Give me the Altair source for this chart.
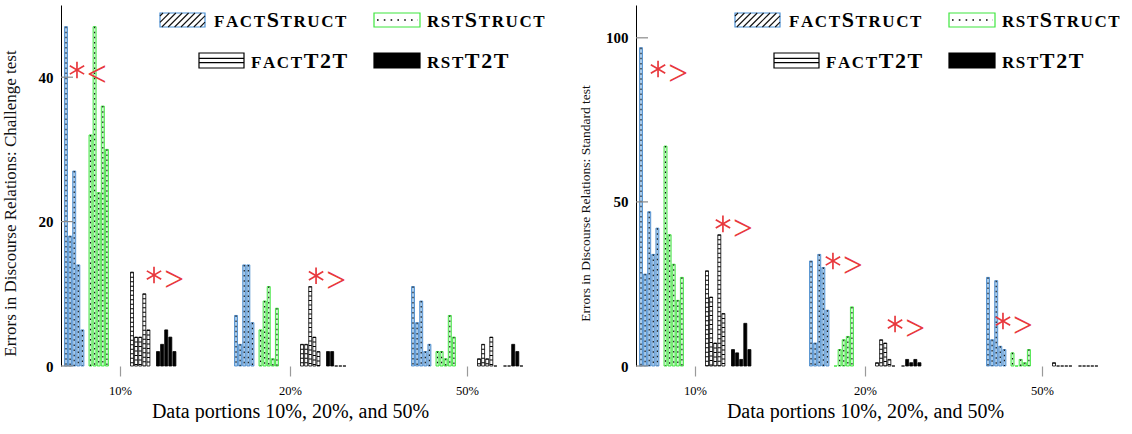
import math
import altair as alt
import pandas as pd

portions = ["10%", "20%", "50%"]
systems = ["factStruct", "rstStruct", "factT2T", "rstT2T"]

# Challenge test: errors for five discourse relations, one list per data portion
challenge_factStruct = [[47, 18, 27, 14, 5], [7, 3, 14, 14, 6], [11, 6, 9, 2, 3]]
challenge_rstStruct = [[32, 47, 24, 36, 30], [5, 9, 11, 1, 8], [2, 2, 1, 7, 4]]
challenge_factT2T = [[13, 4, 4, 10, 5], [3, 3, 11, 4, 2], [1, 3, 1, 4, 0]]
challenge_rstT2T = [[2, 3, 5, 4, 2], [2, 2, 0, 0, 0], [0, 0, 3, 2, 0]]

# Standard test
standard_factStruct = [[97, 28, 47, 34, 42], [32, 7, 34, 30, 17], [27, 8, 26, 6, 5]]
standard_rstStruct = [[67, 40, 31, 20, 27], [0, 5, 8, 9, 18], [4, 0, 2, 1, 5]]
standard_factT2T = [[29, 21, 7, 40, 16], [1, 8, 7, 2, 0], [1, 0, 0, 0, 0]]
standard_rstT2T = [[5, 4, 2, 13, 5], [0, 2, 1, 2, 1], [0, 0, 0, 0, 0]]

# significance marks: x in data-portion units, y in errors
challenge_sig_x = [-0.248, 0.196, 1.130]
challenge_sig_y = [41.0, 12.6, 12.5]
challenge_sig_sym = ["<", ">", ">"]
standard_sig_x = [-0.213, 0.161, 0.795, 1.153, 1.775]
standard_sig_y = [90.5, 43.3, 32.0, 12.8, 13.7]
standard_sig_sym = [">", ">", ">", ">", ">"]

challenge_ticks = [0, 20, 40]
standard_ticks = [0, 50, 100]
challenge_ymax = 50
standard_ymax = 110

# ---- layout and style ----
FONT = "Liberation Serif"
RED = "#e8383d"
PLOT_W, PLOT_H = 458, 361
GROUP_PX = 173.5
GROUP_POS = [0.0, 0.98, 2.0]
FIRST_GROUP_PX = 59
SERIES_START_PX = [-55.5, -31.0, 10.5, 36.5]
BAR_PITCH_PX = 4.1
BAR_W_PX = 3.0
FILL = ["#a6c9ea", "#cbf8cb", "#ffffff", "#000000"]
STROKE = ["#3b82c8", "#22e022", "#000000", "#000000"]
X_DOMAIN = [-FIRST_GROUP_PX / GROUP_PX, (PLOT_W - FIRST_GROUP_PX) / GROUP_PX]
STAR_ARM_PX = 8.3

mid1 = (GROUP_POS[0] + GROUP_POS[1]) / 2
mid2 = (GROUP_POS[1] + GROUP_POS[2]) / 2
LABEL_EXPR = (f"datum.value < {mid1} ? '{portions[0]}' : "
              f"datum.value < {mid2} ? '{portions[1]}' : '{portions[2]}'")

# Liberation Serif Bold advance widths (em) for the legend letters
GLYPH_W = {"F": 0.611, "A": 0.722, "C": 0.722, "T": 0.667, "S": 0.556,
           "R": 0.722, "U": 0.722, "2": 0.500}
SMALL, BIG, TRACK = 17, 22, 1.6

LEGEND = [
    # label pieces, swatch box (x0, y0, x1, y1), text start x, baseline y
    ([("FACT", SMALL), ("S", BIG), ("TRUCT", SMALL)], (99, 8, 144, 22), 153, 22),
    ([("RST", SMALL), ("S", BIG), ("TRUCT", SMALL)], (313, 8, 359, 22), 366, 22),
    ([("FACT", SMALL), ("T2T", BIG)], (138, 48, 183, 63), 190, 63),
    ([("RST", SMALL), ("T2T", BIG)], (313, 48, 359, 63), 366, 63),
]


def bar_table(values_by_system):
    rows = []
    for si, per_portion in enumerate(values_by_system):
        for gi, vals in enumerate(per_portion):
            for b, v in enumerate(vals):
                x0 = GROUP_POS[gi] + (SERIES_START_PX[si] + b * BAR_PITCH_PX) / GROUP_PX
                x1 = x0 + BAR_W_PX / GROUP_PX
                rows.append(dict(system=systems[si], portion=portions[gi], errors=v,
                                 x0=x0, x1=x1, xc=(x0 + x1) / 2, zero=0))
    return pd.DataFrame(rows)


def star_arms(sig_x, sig_y, ymax):
    # three strokes through each mark's centre give a six-armed asterisk
    y_px = PLOT_H / ymax
    rows = []
    for x, y in zip(sig_x, sig_y):
        for ang in (90, 30, 150):
            dx = STAR_ARM_PX * math.cos(math.radians(ang)) / GROUP_PX
            dy = STAR_ARM_PX * math.sin(math.radians(ang)) / y_px
            rows.append(dict(x0=x - dx, x1=x + dx, errors=y - dy, e2=y + dy))
    return pd.DataFrame(rows)


def legend_layers():
    letters, boxes, hatch = [], [], []
    for pieces, box, tx, ty in LEGEND:
        cur = tx
        for text, size in pieces:
            for ch in text:
                letters.append(dict(ch=ch, px=cur, py=ty, size=size))
                cur += GLYPH_W[ch] * size + TRACK
    for si, (_, box, _, _) in enumerate(LEGEND):
        x0, y0, x1, y1 = box
        boxes.append(dict(x0=x0, y0=y0, x1=x1, y1=y1,
                          fill=FILL[si] if si == 3 else "#ffffff",
                          stroke=["#4a8fd4", "#3ee63e", "#000000", "#000000"][si]))
    # diagonal hatching of the factStruct swatch
    x0, y0, x1, y1 = LEGEND[0][1]
    h = y1 - y0
    c = x0 - h + 3
    while c < x1:
        sx, sy = c, y1
        ex, ey = c + h, y0
        if sx < x0:
            sy = y1 - (x0 - sx)
            sx = x0
        if ex > x1:
            ey = y1 - (x1 - c)
            ex = x1
        hatch.append(dict(x0=sx, y0=sy, x1=ex, y1=ey))
        c += 6.4
    # stripes of the factT2T swatch
    x0, y0, x1, y1 = LEGEND[2][1]
    stripes = [dict(x0=x0, x1=x1, y0=y0 + (y1 - y0) * f, y1=y0 + (y1 - y0) * f)
               for f in (0.36, 0.64)]
    # dotted line of the rstStruct swatch
    x0, y0, x1, y1 = LEGEND[1][1]
    dots = [dict(x0=x0 + 3, x1=x1 - 2, y0=(y0 + y1) / 2, y1=(y0 + y1) / 2)]

    def px(name):
        return alt.X(f"{name}:Q", scale=None)

    def py(name):
        return alt.Y(f"{name}:Q", scale=None)

    rects = alt.Chart(pd.DataFrame(boxes)).mark_rect(strokeWidth=1.2).encode(
        x=px("x0"), x2="x1:Q", y=py("y0"), y2="y1:Q",
        fill=alt.Fill("fill:N", scale=None), stroke=alt.Stroke("stroke:N", scale=None))
    hatch_l = alt.Chart(pd.DataFrame(hatch)).mark_rule(strokeWidth=1.1, color="#111").encode(
        x=px("x0"), x2="x1:Q", y=py("y0"), y2="y1:Q")
    stripe_l = alt.Chart(pd.DataFrame(stripes)).mark_rule(strokeWidth=1.1, color="#000").encode(
        x=px("x0"), x2="x1:Q", y=py("y0"), y2="y1:Q")
    dot_l = alt.Chart(pd.DataFrame(dots)).mark_rule(
        strokeWidth=1.6, color="#000", strokeDash=[1.6, 5.2]).encode(
        x=px("x0"), x2="x1:Q", y=py("y0"), y2="y1:Q")
    text_l = alt.Chart(pd.DataFrame(letters)).mark_text(
        font=FONT, fontWeight="bold", align="left", baseline="alphabetic", color="#000").encode(
        x=px("px"), y=py("py"), text="ch:N", size=alt.Size("size:Q", scale=None))
    return [rects, hatch_l, stripe_l, dot_l, text_l]


def panel(values_by_system, ymax, ticks, ytitle, title_size, title_x,
          sig_x, sig_y, sig_sym):
    bars = bar_table(values_by_system)
    x_enc = alt.X("x0:Q", scale=alt.Scale(domain=X_DOMAIN, nice=False, zero=False),
                  axis=alt.Axis(values=GROUP_POS, labelExpr=LABEL_EXPR,
                                title="Data portions 10%, 20%, and 50%",
                                domain=False, ticks=True, tickColor="#9a9a9a", tickSize=10,
                                tickWidth=1.2, labelFontSize=12.5, labelColor="#000",
                                labelPadding=8, titleFontSize=20, titleFontWeight="normal",
                                titleColor="#000", titlePadding=5, grid=False))
    y_enc = alt.Y("errors:Q", scale=alt.Scale(domain=[0, ymax], nice=False),
                  axis=alt.Axis(values=ticks, title=ytitle, ticks=False, domainColor="#000",
                                domainWidth=1, labelFontSize=15, labelFontWeight="bold",
                                labelColor="#000", labelPadding=8, titleFontSize=title_size,
                                titleFontWeight="normal", titleColor="#111", titleAngle=270,
                                titleX=title_x, titleY=198, titleBaseline="bottom",
                                titleAlign="center", grid=False))

    rects = alt.Chart(bars).mark_rect(strokeWidth=0.8).encode(
        x=x_enc, x2="x1:Q", y=y_enc, y2="zero:Q",
        fill=alt.Fill("system:N", scale=alt.Scale(domain=systems, range=FILL), legend=None),
        stroke=alt.Stroke("system:N", scale=alt.Scale(domain=systems, range=STROKE), legend=None))

    centers = bars.assign(x0=bars["xc"])
    struct = centers[centers["system"].isin(systems[:2]) & (centers["errors"] > 0)]
    grid = centers[(centers["system"] == systems[2]) & (centers["errors"] > 0)]
    dots = alt.Chart(struct).mark_rule(strokeWidth=1.1, color="#111",
                                       strokeDash=[1.5, 3.6]).encode(
        x=x_enc, y=y_enc, y2="zero:Q")
    stripes = alt.Chart(grid).mark_rule(strokeWidth=BAR_W_PX, color="#000",
                                        strokeDash=[1, 3.5]).encode(
        x=x_enc, y=y_enc, y2="zero:Q")

    tick_rules = alt.Chart(pd.DataFrame({"errors": ticks})).mark_rule(
        color="#8a8a8a", strokeWidth=1.2).encode(
        y=y_enc, x=alt.value(0), x2=alt.value(12))

    stars = alt.Chart(star_arms(sig_x, sig_y, ymax)).mark_rule(
        color=RED, strokeWidth=1.7).encode(x=x_enc, x2="x1:Q", y=y_enc, y2="e2:Q")
    sig = pd.DataFrame({"x0": sig_x, "errors": sig_y, "sym": sig_sym})
    signs = alt.Chart(sig).mark_text(font=FONT, fontSize=35, color=RED, align="center",
                                     baseline="middle", dx=20, dy=5).encode(
        x=x_enc, y=y_enc, text="sym:N")

    return alt.layer(rects, dots, stripes, tick_rules, stars, signs,
                     *legend_layers()).properties(width=PLOT_W, height=PLOT_H)


left = panel([challenge_factStruct, challenge_rstStruct, challenge_factT2T, challenge_rstT2T],
             challenge_ymax, challenge_ticks, "Errors in Discourse Relations: Challenge test",
             17, -42, challenge_sig_x, challenge_sig_y, challenge_sig_sym)
right = panel([standard_factStruct, standard_rstStruct, standard_factT2T, standard_rstT2T],
              standard_ymax, standard_ticks, "Errors in Discourse Relations: Standard test",
              13.5, -44, standard_sig_x, standard_sig_y, standard_sig_sym)

chart = alt.hconcat(left, right, spacing=117, bounds="flush").configure_view(
    stroke=None).configure_axis(labelFont=FONT, titleFont=FONT).properties(
    padding={"left": 0, "top": 5, "right": 0, "bottom": 0}, background="#ffffff")

chart.save("out.html", embed_options={"renderer": "svg", "actions": False})
